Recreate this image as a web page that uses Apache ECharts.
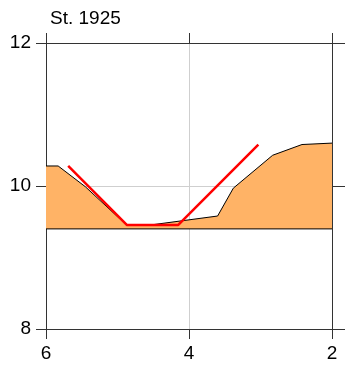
<!DOCTYPE html>
<html>
<head>
<meta charset="utf-8">
<script src="https://cdn.jsdelivr.net/npm/echarts@6/dist/echarts.min.js"></script>
<style>html,body{margin:0;padding:0;background:#fff}#c{width:345px;height:371px}</style>
</head>
<body>
<div id="c"></div>
<script>
var titleText = "St. 1925";
var xTicks = [6, 4, 2];
var yTicks = [8, 10, 12];
var profileX = [6.0, 5.83, 5.45, 4.87, 4.50, 3.60, 3.38, 2.83, 2.42, 2.0];
var profileY = [10.28, 10.28, 9.99, 9.45, 9.46, 9.58, 9.97, 10.43, 10.58, 10.60];
var designX = [5.69, 4.87, 4.15, 3.03];
var designY = [10.28, 9.455, 9.455, 10.58];
var baseLevel = 9.4;

function pairs(xs, ys){ return xs.map(function(x,i){ return [x, ys[i]]; }); }

var font = 'Liberation Sans, Arial, sans-serif';
var axisLineStyle = {color:'#333', width:1};
var chart = echarts.init(document.getElementById('c'), null, {renderer:'canvas'});
chart.setOption({
  animation:false,
  title:{text:titleText, left:45, top:4, textStyle:{fontFamily:font, fontSize:19, fontWeight:'normal', color:'#000'}},
  grid:{left:46, right:13, top:43, bottom:42, containLabel:false},
  xAxis:[
    {type:'value', inverse:true, min:2, max:6, interval:2, position:'bottom',
     axisLine:{show:true, onZero:false, lineStyle:axisLineStyle},
     axisTick:{show:true, length:10, lineStyle:axisLineStyle},
     axisLabel:{fontFamily:font, fontSize:19, color:'#000', margin:15},
     splitLine:{show:true, lineStyle:{color:'#cfcfcf', width:1}}},
    {type:'value', inverse:true, min:2, max:6, interval:2, position:'top',
     axisLine:{show:true, onZero:false, lineStyle:axisLineStyle},
     axisTick:{show:true, length:10, lineStyle:axisLineStyle},
     axisLabel:{show:false}, splitLine:{show:false}}
  ],
  yAxis:[
    {type:'value', min:8, max:12, interval:2, position:'left',
     axisLine:{show:true, onZero:false, lineStyle:axisLineStyle},
     axisTick:{show:true, length:10, lineStyle:axisLineStyle},
     axisLabel:{fontFamily:font, fontSize:19, color:'#000', margin:15},
     splitLine:{show:true, lineStyle:{color:'#cfcfcf', width:1}}},
    {type:'value', min:8, max:12, interval:2, position:'right',
     axisLine:{show:true, onZero:false, lineStyle:axisLineStyle},
     axisTick:{show:true, length:13, lineStyle:axisLineStyle},
     axisLabel:{show:false}, splitLine:{show:false}}
  ],
  series:[
    {type:'line', data:pairs(profileX, profileY), symbol:'none',
     lineStyle:{color:'#000', width:1},
     areaStyle:{color:'#FFB366', opacity:1, origin:baseLevel}, z:2},
    {type:'line', data:[[6, baseLevel],[2, baseLevel]], symbol:'none',
     lineStyle:{color:'#000', width:1}, z:3},
    {type:'line', data:pairs(designX, designY), symbol:'none',
     lineStyle:{color:'#ff0000', width:2.5}, z:4}
  ]
});
</script>
</body>
</html>
